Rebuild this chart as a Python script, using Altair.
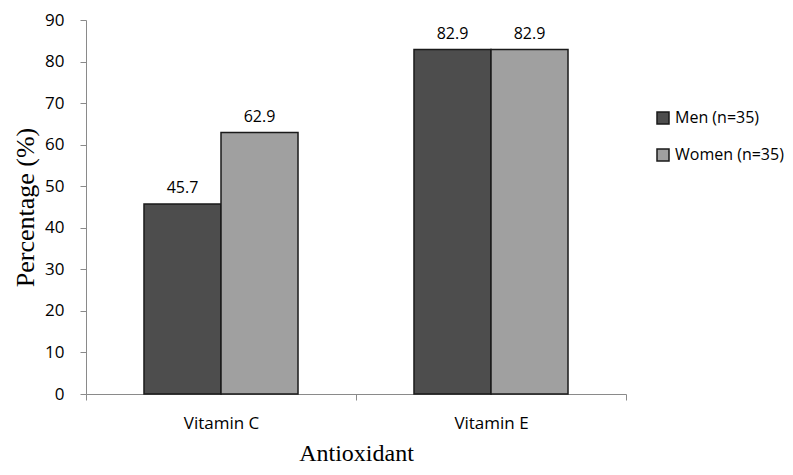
import altair as alt
import pandas as pd

antioxidants = ["Vitamin C", "Vitamin C", "Vitamin E", "Vitamin E"]
groups = ["Men (n=35)", "Women (n=35)", "Men (n=35)", "Women (n=35)"]
percentages = [45.7, 62.9, 82.9, 82.9]
group_order = ["Men (n=35)", "Women (n=35)"]
group_colors = ["#4d4d4d", "#a0a0a0"]
y_ticks = [0, 10, 20, 30, 40, 50, 60, 70, 80, 90]

df = pd.DataFrame({"Antioxidant": antioxidants, "Group": groups, "Percentage": percentages})
df["Label"] = df["Percentage"].map(lambda v: f"{v:.1f}")

sans = "Open Sans"
serif = "Liberation Serif"
axis_gray = "#8a8a8a"

x = alt.X(
    "Antioxidant:N",
    scale=alt.Scale(paddingInner=0, paddingOuter=0),
    axis=alt.Axis(
        title="Antioxidant", labelAngle=0, tickBand="extent", tickSize=6,
        labelFont=sans, labelFontSize=17, labelColor="#000", labelPadding=15,
        titleFont=serif, titleFontSize=24, titleFontWeight="normal", titleColor="#000",
        titlePadding=10, domainColor=axis_gray, tickColor=axis_gray,
    ),
)
xoff = alt.XOffset("Group:N", sort=group_order,
                   scale=alt.Scale(paddingInner=0, paddingOuter=0.753))
y = alt.Y(
    "Percentage:Q",
    scale=alt.Scale(domain=[0, 90], nice=False),
    axis=alt.Axis(
        title="Percentage (%)", values=y_ticks, grid=False, tickSize=6,
        labelFont=sans, labelFontSize=17, labelColor="#000", labelPadding=16,
        titleFont=serif, titleFontSize=26, titleFontWeight="normal", titleColor="#000",
        titlePadding=6, domainColor=axis_gray, tickColor=axis_gray,
    ),
)

bars = alt.Chart(df).mark_bar(stroke="#1a1a1a", strokeWidth=1.5).encode(
    x=x, xOffset=xoff, y=y,
    color=alt.Color(
        "Group:N", sort=group_order,
        scale=alt.Scale(domain=group_order, range=group_colors),
        legend=alt.Legend(
            title=None, orient="none", legendX=569, legendY=90,
            symbolType="square", symbolSize=144, symbolStrokeColor="#1a1a1a",
            symbolStrokeWidth=1.5, labelFont=sans, labelFontSize=16,
            labelColor="#000", rowPadding=19, labelOffset=4,
        ),
    ),
)

text = alt.Chart(df).mark_text(baseline="bottom", dy=-8, fontSize=16, font=sans, color="#000").encode(
    x=x, xOffset=xoff, y=y, text="Label:N"
)

chart = (bars + text).properties(
    width=540, height=374,
    autosize=alt.AutoSizeParams(type="none"),
    padding={"left": 78, "top": 12, "right": 159, "bottom": 73},
).configure_view(stroke=None)

chart.save("out.html", embed_options={"renderer": "svg", "actions": False})
